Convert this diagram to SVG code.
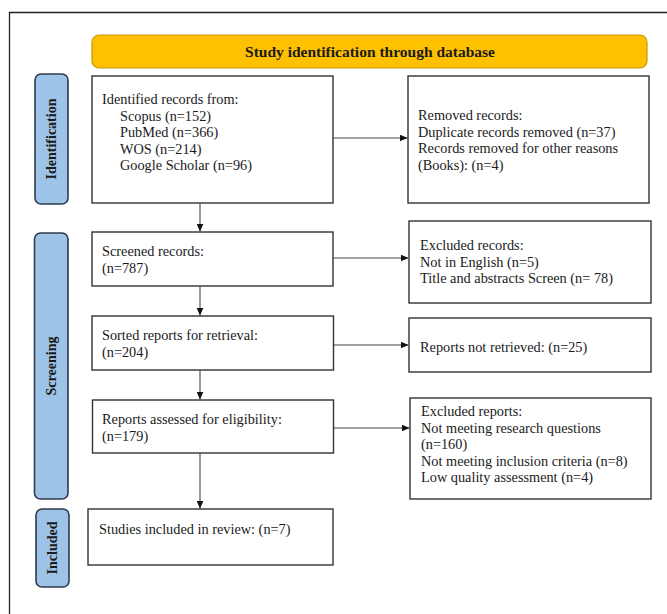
<svg xmlns="http://www.w3.org/2000/svg" width="667" height="614" viewBox="0 0 667 614">
<style>
  .bg { fill: #ffffff; }
  .frame { fill: none; stroke: #222; stroke-width: 1.3; }
  .box { fill: #ffffff; stroke: #333; stroke-width: 1.4; }
  .banner { fill: #FFC000; stroke: #C59A00; stroke-width: 1.2; }
  .side { fill: #9DC3E6; stroke: #2E3B4E; stroke-width: 1.6; }
  .t { font-family: "Liberation Serif", "Times New Roman", serif; font-size: 14.3px; fill: #1a1a1a; }
  .title { font-family: "Liberation Serif", "Times New Roman", serif; font-size: 15.5px; font-weight: bold; fill: #1a1a1a; text-anchor: middle; }
  .side-t { font-family: "Liberation Serif", "Times New Roman", serif; font-size: 14px; font-weight: bold; fill: #1a1a1a; text-anchor: middle; }
  .conn { stroke: #444; stroke-width: 1.1; fill: none; marker-end: url(#arrow); }
</style>
<defs>
  <marker id="arrow" markerUnits="userSpaceOnUse" markerWidth="8" markerHeight="7" refX="8" refY="3.5" orient="auto">
    <path d="M0,0 L8,3.5 L0,7 z" fill="#111"/>
  </marker>
</defs>
<rect class="bg" x="0" y="0" width="667" height="614"/>
<path class="frame" d="M9.5,614 V12.5 H667"/>

<g id="banner">
  <rect class="banner" x="92" y="35" width="555" height="33" rx="7"/>
  <text class="title" x="370" y="57">Study identification through database</text>
</g>

<g id="label-identification">
  <rect class="side" x="35" y="74" width="33" height="130" rx="6"/>
  <text class="side-t" transform="translate(56,139) rotate(-90)">Identification</text>
</g>
<g id="label-screening">
  <rect class="side" x="34.5" y="233" width="33.5" height="266" rx="6"/>
  <text class="side-t" transform="translate(56,366) rotate(-90)">Screening</text>
</g>
<g id="label-included">
  <rect class="side" x="36" y="509" width="33" height="78" rx="6"/>
  <text class="side-t" transform="translate(57,548) rotate(-90)">Included</text>
</g>

<g id="identified">
  <rect class="box" x="92" y="76" width="241" height="127"/>
  <text class="t" x="102" y="104">Identified records from:</text>
  <text class="t" x="120" y="120.5">Scopus (n=152)</text>
  <text class="t" x="120" y="137">PubMed (n=366)</text>
  <text class="t" x="120" y="153.5">WOS (n=214)</text>
  <text class="t" x="120" y="170">Google Scholar (n=96)</text>
</g>

<g id="removed">
  <rect class="box" x="408" y="76" width="241" height="127"/>
  <text class="t" x="418" y="120">Removed records:</text>
  <text class="t" x="418" y="136.5">Duplicate records removed (n=37)</text>
  <text class="t" x="418" y="153">Records removed for other reasons</text>
  <text class="t" x="418" y="169.5">(Books): (n=4)</text>
</g>

<g id="screened">
  <rect class="box" x="92" y="232" width="241" height="54"/>
  <text class="t" x="102" y="256">Screened records:</text>
  <text class="t" x="102" y="272.5">(n=787)</text>
</g>

<g id="excluded-records">
  <rect class="box" x="409" y="221" width="242" height="82"/>
  <text class="t" x="420" y="250">Excluded records:</text>
  <text class="t" x="420" y="266.5">Not in English (n=5)</text>
  <text class="t" x="420" y="283">Title and abstracts Screen (n= 78)</text>
</g>

<g id="sorted">
  <rect class="box" x="92" y="316" width="241.5" height="54"/>
  <text class="t" x="102" y="340">Sorted reports for retrieval:</text>
  <text class="t" x="102" y="356.5">(n=204)</text>
</g>

<g id="not-retrieved">
  <rect class="box" x="409" y="318" width="242" height="54"/>
  <text class="t" x="420" y="352">Reports not retrieved: (n=25)</text>
</g>

<g id="assessed">
  <rect class="box" x="92.5" y="400" width="241" height="53"/>
  <text class="t" x="102" y="424">Reports assessed for eligibility:</text>
  <text class="t" x="102" y="440.5">(n=179)</text>
</g>

<g id="excluded-reports">
  <rect class="box" x="410" y="398" width="241" height="101"/>
  <text class="t" x="421" y="416">Excluded reports:</text>
  <text class="t" x="421" y="432.5">Not meeting research questions</text>
  <text class="t" x="421" y="449">(n=160)</text>
  <text class="t" x="421" y="465.5">Not meeting inclusion criteria (n=8)</text>
  <text class="t" x="421" y="482">Low quality assessment (n=4)</text>
</g>

<g id="included">
  <rect class="box" x="88" y="509" width="245" height="56"/>
  <text class="t" x="99" y="534">Studies included in review: (n=7)</text>
</g>

<g id="connectors">
  <line class="conn" x1="333" y1="138" x2="407.5" y2="138"/>
  <line class="conn" x1="333" y1="258" x2="408.5" y2="258"/>
  <line class="conn" x1="334" y1="345" x2="408.5" y2="345"/>
  <line class="conn" x1="334" y1="428" x2="409.5" y2="428"/>
  <line class="conn" x1="200" y1="203" x2="200" y2="231.5"/>
  <line class="conn" x1="200" y1="286" x2="200" y2="315.5"/>
  <line class="conn" x1="200" y1="370" x2="200" y2="399.5"/>
  <line class="conn" x1="200" y1="453" x2="200" y2="508.5"/>
</g>
</svg>
